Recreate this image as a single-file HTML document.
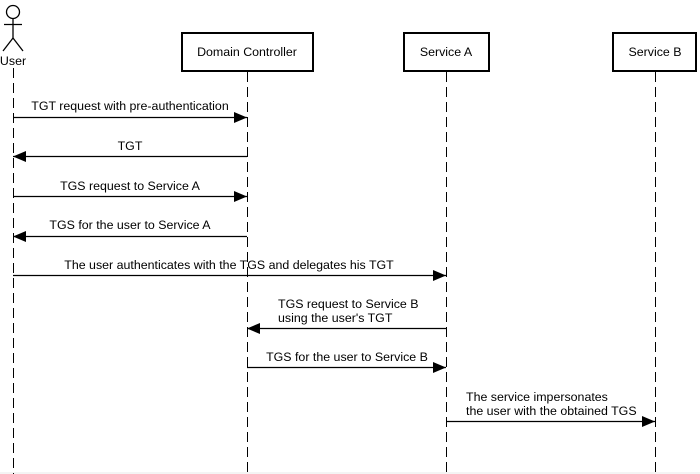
<!DOCTYPE html>
<html><head><meta charset="utf-8"><style>
html,body{margin:0;padding:0;background:#fff;}
svg{display:block;}
text{font-family:"Liberation Sans",Arial,sans-serif;font-size:12.4px;fill:#000;}
</style></head><body>
<svg width="700" height="474" viewBox="0 0 700 474" xmlns="http://www.w3.org/2000/svg">
<defs>
<marker id="a" markerWidth="13" markerHeight="11" refX="13" refY="5.5" orient="auto" markerUnits="userSpaceOnUse">
<path d="M0,0 L13,5.5 L0,11 z" fill="#000"/></marker>
</defs>
<rect x="0" y="472" width="700" height="2" fill="#f4f4f4"/>
<g stroke="#000" stroke-width="1" stroke-dasharray="10,5" fill="none">
<line x1="13.5" y1="68" x2="13.5" y2="474"/>
<line x1="247.5" y1="72" x2="247.5" y2="474"/>
<line x1="446.5" y1="72" x2="446.5" y2="474"/>
<line x1="655.5" y1="72" x2="655.5" y2="474"/>
</g>
<g stroke="#000" stroke-width="1.3" fill="none">
<circle cx="13" cy="12" r="6.5"/>
<line x1="13" y1="18.5" x2="13" y2="38"/>
<line x1="4" y1="24.5" x2="22" y2="24.5"/>
<line x1="13" y1="38" x2="3" y2="51"/>
<line x1="13" y1="38" x2="23" y2="51"/>
</g>
<text x="13" y="65" text-anchor="middle">User</text>
<g stroke="#000" stroke-width="2" fill="#fff">
<rect x="182" y="33" width="131" height="38"/>
<rect x="404" y="33" width="85" height="38"/>
<rect x="613" y="33" width="83" height="38"/>
</g>
<text x="247" y="56" text-anchor="middle">Domain Controller</text>
<text x="446" y="56" text-anchor="middle">Service A</text>
<text x="655" y="56" text-anchor="middle">Service B</text>
<g stroke="#000" stroke-width="1.2" marker-end="url(#a)">
<line x1="13" y1="117.5" x2="247" y2="117.5"/>
<line x1="247" y1="156.5" x2="13" y2="156.5"/>
<line x1="13" y1="196.5" x2="247" y2="196.5"/>
<line x1="247" y1="236.5" x2="13" y2="236.5"/>
<line x1="13" y1="275.5" x2="446" y2="275.5"/>
<line x1="446" y1="328.5" x2="247" y2="328.5"/>
<line x1="247" y1="367.5" x2="446" y2="367.5"/>
<line x1="446" y1="421.5" x2="655" y2="421.5"/>
</g>
<text x="130" y="110" text-anchor="middle">TGT request with pre-authentication</text>
<text x="130" y="150" text-anchor="middle">TGT</text>
<text x="130" y="190" text-anchor="middle">TGS request to Service A</text>
<text x="130" y="229" text-anchor="middle">TGS for the user to Service A</text>
<text x="229" y="269" text-anchor="middle">The user authenticates with the TGS and delegates his TGT</text>
<text x="278" y="308">TGS request to Service B</text>
<text x="278" y="322">using the user's TGT</text>
<text x="347" y="361" text-anchor="middle">TGS for the user to Service B</text>
<text x="466" y="401">The service impersonates</text>
<text x="466" y="415">the user with the obtained TGS</text>
</svg>
</body></html>
